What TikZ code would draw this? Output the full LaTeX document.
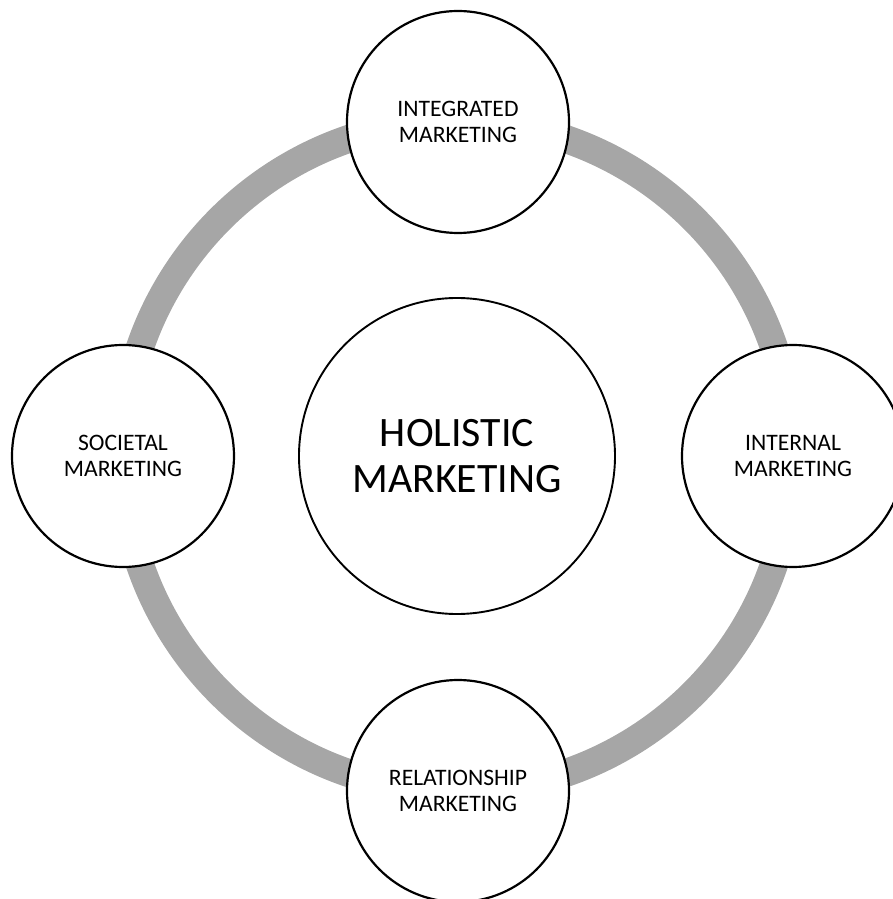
\documentclass[tikz,border=0pt]{standalone}
\usepackage{fontspec}
\setmainfont{Carlito}
\definecolor{ringgray}{HTML}{A6A6A6}
\tikzset{
  sat/.style={circle, draw=black, line width=2.2bp, fill=white, minimum size=222bp, inner sep=0pt, outer sep=0pt, align=center, font=\fontsize{23.7}{26}\selectfont},
  hub/.style={circle, draw=black, line width=1.9bp, fill=white, minimum size=316bp, inner sep=0pt, outer sep=0pt, align=center, font=\fontsize{42}{47}\selectfont},
  ring/.style={draw=ringgray, line width=28bp}
}
\begin{document}
\begin{tikzpicture}[x=1bp, y=1bp]
\useasboundingbox (-457,-443) rectangle (436,456);
\coordinate (c) at (0,0);
\draw[ring] (c) circle (335);
\node[hub] (holistic) at (c) {HOLISTIC\\MARKETING};
\node[sat] (integrated) at (1,334) {INTEGRATED\\MARKETING};
\node[sat] (internal) at (336,0) {INTERNAL\\MARKETING};
\node[sat] (relationship) at (1,-335) {RELATIONSHIP\\MARKETING};
\node[sat] (societal) at (-334,0) {SOCIETAL\\MARKETING};
\end{tikzpicture}
\end{document}
